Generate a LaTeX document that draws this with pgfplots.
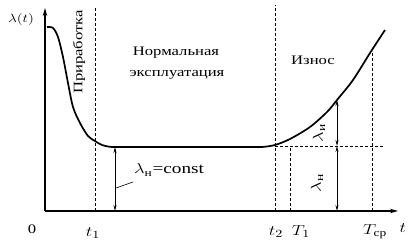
\documentclass[border=0pt]{standalone}
\usepackage{amsmath}
\usepackage{graphicx}
\usepackage{fontspec}
\setmainfont{Liberation Serif}
\usepackage{pgfplots}
\pgfplotsset{compat=1.18}
\usetikzlibrary{arrows.meta}
\newcommand{\w}[1]{\scalebox{1.28}[1]{\fontsize{13}{15}\selectfont #1}}
\newcommand{\wm}[1]{\scalebox{1.28}[1]{\fontsize{15}{17}\selectfont #1}}
\begin{document}
\begin{tikzpicture}
\begin{axis}[
  x=1pt, y=1pt,
  xmin=45, xmax=398, ymin=0, ymax=203,
  axis lines=left,
  axis line style={line width=1.2pt, -{Stealth[length=8pt,width=4.5pt]}},
  xtick=\empty, ytick=\empty,
  clip=false,
  dash/.style={line width=0.9pt, dash pattern=on 3pt off 2pt},
  dbl/.style={line width=0.8pt, {Stealth[length=6pt,width=3pt]}-{Stealth[length=6pt,width=3pt]}},
]
% main curve
\addplot[smooth, line width=1.7pt] coordinates {(47,184)(53,183)(58,174)(63,154)(68,128)(73,104)(80,88)(88,75)(95,70)(102,66)(112,64)(130,64)(250,64)(262,64)(275,66)(290,72)(310,84)(327,99)(337,111)(353,131)(370,158)(385,181)};
% dashed guides
\addplot[dash] coordinates {(95,0)(95,204)};
\addplot[dash] coordinates {(275,0)(275,206)};
\addplot[dash] coordinates {(290,0)(290,65)};
\addplot[dash] coordinates {(372,0)(372,160)};
\addplot[dash] coordinates {(275,65)(384,65)};
% arrows
\addplot[dbl] coordinates {(115,0)(115,64)};
\addplot[dbl] coordinates {(337,0)(337,65)};
\addplot[dbl] coordinates {(337,65)(337,111)};
\addplot[line width=0.6pt] coordinates {(116,23)(133,29)};
% labels
\node[inner sep=0pt] at (axis cs:32,-18) {\w{0}};
\node[inner sep=0pt] at (axis cs:93,-22) {\wm{$t_1$}};
\node[inner sep=0pt] at (axis cs:276,-21) {\wm{$t_2$}};
\node[inner sep=0pt] at (axis cs:301,-21) {\wm{$T_1$}};
\node[inner sep=0pt] at (axis cs:375,-21) {\wm{$T_{\text{ср}}$}};
\node[inner sep=0pt] at (axis cs:403,-17) {\wm{$t$}};
\node[inner sep=0pt] at (axis cs:21,191) {\w{$\lambda(t)$}};
\node[inner sep=0pt, rotate=90] at (axis cs:79,159) {\w{Приработка}};
\node[inner sep=0pt] at (axis cs:176,158) {\w{Нормальная}};
\node[inner sep=0pt] at (axis cs:177,136) {\w{эксплуатация}};
\node[inner sep=0pt] at (axis cs:313,151) {\w{Износ}};
\node[inner sep=0pt, anchor=west] at (axis cs:134,41) {\wm{$\lambda_{\text{н}}$=const}};
\node[inner sep=0pt, rotate=90] at (axis cs:319,78) {\wm{$\lambda_{\text{и}}$}};
\node[inner sep=0pt, rotate=90] at (axis cs:317,28) {\wm{$\lambda_{\text{н}}$}};
\coordinate (bl) at (axis cs:0,-37);
\coordinate (tr) at (axis cs:410,211);
\end{axis}
\pgfresetboundingbox
\path[use as bounding box] (bl) rectangle (tr);
\end{tikzpicture}
\end{document}
